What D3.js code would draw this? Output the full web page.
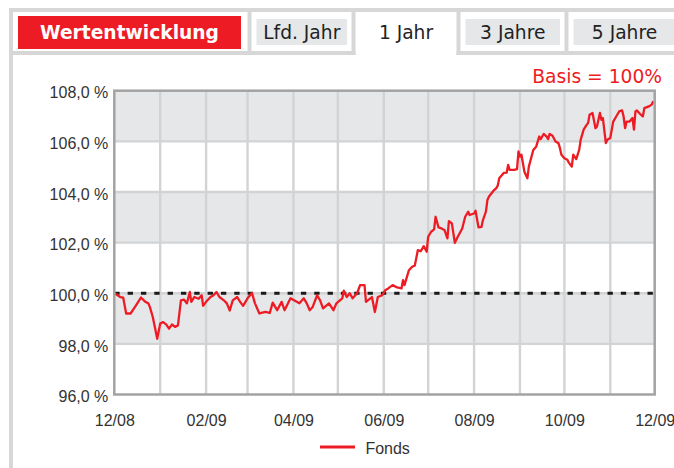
<!DOCTYPE html>
<html><head><meta charset="utf-8">
<script src="https://cdn.jsdelivr.net/npm/d3@7"></script>
<style>html,body{margin:0;padding:0;background:#fff}svg{display:block}</style>
</head><body>
<svg id="c" width="674" height="468"></svg>
<script>
// ---- data ----
const tabLabels = ["Wertentwicklung", "Lfd. Jahr", "1 Jahr", "3 Jahre", "5 Jahre"];
const activeTab = "1 Jahr";
const basisLabel = "Basis = 100%";
const seriesName = "Fonds";
const yTicks = [96, 98, 100, 102, 104, 106, 108];
const xTickLabels = ["12/08", "02/09", "04/09", "06/09", "08/09", "10/09", "12/09"];
const baseline = 100;
const dates = [
"2008-12-01","2008-12-02","2008-12-05","2008-12-07","2008-12-09","2008-12-12","2008-12-15","2008-12-19","2008-12-22","2008-12-24",
"2008-12-25","2008-12-27","2008-12-30","2009-01-01","2009-01-03","2009-01-05","2009-01-07","2009-01-09","2009-01-11","2009-01-13",
"2009-01-15","2009-01-17","2009-01-19","2009-01-21","2009-01-22","2009-01-24","2009-01-27","2009-01-29","2009-01-30","2009-02-01",
"2009-02-04","2009-02-06","2009-02-08","2009-02-10","2009-02-13","2009-02-15","2009-02-17","2009-02-19","2009-02-22","2009-02-24",
"2009-02-26","2009-03-01","2009-03-04","2009-03-06","2009-03-09","2009-03-13","2009-03-16","2009-03-18","2009-03-21","2009-03-24",
"2009-03-26","2009-03-30","2009-04-02","2009-04-05","2009-04-08","2009-04-10","2009-04-12","2009-04-14","2009-04-17","2009-04-19",
"2009-04-21","2009-04-25","2009-04-28","2009-04-30","2009-05-04","2009-05-05","2009-05-07","2009-05-09","2009-05-11","2009-05-14",
"2009-05-16","2009-05-19","2009-05-20","2009-05-24","2009-05-26","2009-05-28","2009-05-31","2009-06-02","2009-06-04","2009-06-07",
"2009-06-10","2009-06-13","2009-06-14","2009-06-15","2009-06-18","2009-06-20","2009-06-22","2009-06-24","2009-06-26","2009-06-28",
"2009-06-30","2009-07-01","2009-07-03","2009-07-05","2009-07-06","2009-07-08","2009-07-10","2009-07-12","2009-07-14","2009-07-15",
"2009-07-17","2009-07-19","2009-07-21","2009-07-24","2009-07-26","2009-07-28","2009-07-29","2009-08-01","2009-08-02","2009-08-04",
"2009-08-06","2009-08-07","2009-08-09","2009-08-10","2009-08-11","2009-08-14","2009-08-16","2009-08-17","2009-08-18","2009-08-21",
"2009-08-23","2009-08-24","2009-08-25","2009-08-28","2009-08-30","2009-08-31","2009-09-01","2009-09-02","2009-09-04","2009-09-06",
"2009-09-07","2009-09-10","2009-09-12","2009-09-14","2009-09-15","2009-09-17","2009-09-19","2009-09-20","2009-09-21","2009-09-23",
"2009-09-25","2009-09-27","2009-09-28","2009-09-29","2009-10-01","2009-10-03","2009-10-04","2009-10-06","2009-10-07","2009-10-09",
"2009-10-11","2009-10-12","2009-10-14","2009-10-16","2009-10-17","2009-10-18","2009-10-20","2009-10-22","2009-10-23","2009-10-25",
"2009-10-26","2009-10-27","2009-10-29","2009-10-30","2009-11-01","2009-11-03","2009-11-05","2009-11-07","2009-11-09","2009-11-10",
"2009-11-11","2009-11-12","2009-11-14","2009-11-16","2009-11-17","2009-11-18","2009-11-19","2009-11-21","2009-11-23","2009-11-24",
"2009-11-27","2009-11-29","2009-11-30"
];
const values = [
100.00,99.97,99.85,99.83,99.20,99.20,99.46,99.83,99.66,99.60,
99.46,99.06,98.20,98.80,98.86,98.77,98.60,98.77,98.67,98.73,
99.72,99.75,99.60,100.05,99.66,99.85,99.78,99.92,99.50,99.66,
99.85,99.92,100.05,99.85,99.72,99.60,99.32,99.72,99.85,99.66,
99.50,99.80,100.01,99.60,99.20,99.26,99.22,99.63,99.33,99.66,
99.33,99.80,99.70,99.60,99.80,99.60,99.33,99.46,99.92,99.72,
99.40,99.60,99.33,99.60,99.80,100.10,99.85,100.00,99.80,100.00,
100.32,100.32,99.66,99.85,99.26,99.85,99.92,100.12,100.19,100.32,
100.23,100.19,100.52,100.32,100.91,101.04,101.10,101.70,101.66,101.86,
101.64,102.23,102.43,102.52,103.02,102.60,102.56,102.50,102.17,102.85,
102.76,101.99,102.23,102.56,103.02,103.22,103.09,103.15,103.26,102.60,
102.62,102.89,103.22,103.68,103.81,104.04,104.15,104.25,104.54,104.75,
104.76,105.07,104.87,104.87,104.90,105.60,105.40,105.47,104.80,104.54,
105.00,105.66,105.80,106.19,106.09,106.29,106.19,106.09,106.29,106.22,
105.99,105.93,105.73,105.47,105.33,105.27,105.16,105.00,105.47,105.30,
105.66,106.06,106.46,106.65,106.72,107.05,107.12,106.52,106.59,107.12,
106.85,106.92,105.93,106.06,106.13,106.78,106.98,107.18,107.22,106.98,
106.52,106.78,106.78,106.92,106.46,107.18,107.22,107.09,106.98,107.31,
107.38,107.45,107.58
];

// ---- drawing ----
const RED = "#ed1c24", FRAME = "#d7d7d7", LABELBG = "#e6e7e8";
const TABFONT = "'DejaVu Sans', Verdana, sans-serif";
const AXFONT = "'Liberation Sans', Arial, sans-serif";
const svg = d3.select("#c");
svg.append("rect").attr("width", 674).attr("height", 468).attr("fill", "#fff");

// tab strip layout
const walls = [9, 247.5, 351.5, 456.5, 564.5, 680];
const wallW = 4, topY = 8, tabBottom = 55;
const fr = svg.append("g");
fr.append("rect").attr("x", walls[0]).attr("y", topY).attr("width", 674 - walls[0]).attr("height", wallW).attr("fill", FRAME);
walls.slice(0, 5).forEach(w => fr.append("rect").attr("x", w).attr("y", topY).attr("width", wallW).attr("height", tabBottom - topY).attr("fill", FRAME));
fr.append("rect").attr("x", walls[0]).attr("y", topY).attr("width", wallW).attr("height", 468 - topY).attr("fill", FRAME);
tabLabels.forEach((t, i) => {
  const x0 = walls[i] + wallW, x1 = walls[i + 1];
  const cx = (x0 + x1) / 2;
  if (t !== activeTab) {
    fr.append("rect").attr("x", walls[i]).attr("y", tabBottom - wallW).attr("width", x1 - walls[i] + wallW).attr("height", wallW).attr("fill", FRAME);
  }
  if (i === 0) {
    fr.append("rect").attr("x", x0 + 5).attr("y", 16).attr("width", x1 - x0 - 11.5).attr("height", 33).attr("fill", RED);
    fr.append("text").attr("x", x0 + 5 + (x1 - x0 - 11.5) / 2).attr("y", 39).attr("text-anchor", "middle")
      .attr("font-family", TABFONT).attr("font-weight", "bold").attr("font-size", 18.67).attr("fill", "#fff").text(t);
  } else {
    if (t !== activeTab) {
      fr.append("rect").attr("x", x0 + 5).attr("y", 19).attr("width", x1 - x0 - 9.5).attr("height", 26).attr("fill", LABELBG);
    }
    const bx = t !== activeTab ? x0 + 5 + (x1 - x0 - 9.5) / 2 : cx;
    fr.append("text").attr("x", bx).attr("y", 39).attr("text-anchor", "middle")
      .attr("font-family", TABFONT).attr("font-size", 18.67).attr("fill", "#222").text(t);
  }
});

svg.append("text").attr("x", 662).attr("y", 82.5).attr("text-anchor", "end")
  .attr("font-family", TABFONT).attr("font-size", 18.67).attr("fill", RED).text(basisLabel);

// plot
const parse = d3.timeParse("%Y-%m-%d");
const data = dates.map((d, i) => ({ date: parse(d), value: values[i] }));
const tickParse = d3.timeParse("%m/%y");
const xTickDates = xTickLabels.map(tickParse);
const L = 114.3, R = 654.7, T = 90.7, B = 394.5;
const x = d3.scaleTime().domain([xTickDates[0], xTickDates[xTickDates.length - 1]]).range([L, R]);
const y = d3.scaleLinear().domain([yTicks[0], yTicks[yTicks.length - 1]]).range([B, T]);

const g = svg.append("g");
// bands
d3.pairs(yTicks).forEach(([a, b], k) => {
  g.append("rect").attr("x", L).attr("y", y(b)).attr("width", R - L).attr("height", y(a) - y(b))
    .attr("fill", k % 2 === 1 ? LABELBG : "#fff");
});
// grid
g.selectAll(".hg").data(yTicks.slice(1, -1)).join("line")
  .attr("x1", L).attr("x2", R).attr("y1", d => y(d)).attr("y2", d => y(d))
  .attr("stroke", "#d2d3d5").attr("stroke-width", 2.4);
g.selectAll(".vg").data(x.ticks(d3.timeMonth.every(1)).slice(1, -1)).join("line")
  .attr("x1", d => x(d)).attr("x2", d => x(d)).attr("y1", T).attr("y2", B)
  .attr("stroke", "#d2d3d5").attr("stroke-width", 2.4);
// baseline 100
g.append("line").attr("x1", L).attr("x2", R).attr("y1", y(baseline)).attr("y2", y(baseline))
  .attr("stroke", "#1a1a1a").attr("stroke-width", 3).attr("stroke-dasharray", "5.33,8");
// series
g.append("path").datum(data)
  .attr("d", d3.line().x(d => x(d.date)).y(d => y(d.value)))
  .attr("fill", "none").attr("stroke", RED).attr("stroke-width", 2.3).attr("stroke-linejoin", "round");
// border
g.append("rect").attr("x", L).attr("y", T).attr("width", R - L).attr("height", B - T)
  .attr("fill", "none").attr("stroke", "#a3a3a3").attr("stroke-width", 2.5);

// axes
const fmtY = d => d.toFixed(1).replace(".", ",") + " %";
const ya = svg.append("g").attr("transform", `translate(${L},0)`)
  .call(d3.axisLeft(y).tickValues(yTicks).tickFormat(fmtY).tickSize(0).tickPadding(6));
ya.select(".domain").remove();
ya.selectAll("text").attr("dy", 7.2).attr("font-family", AXFONT).attr("font-size", 16).attr("fill", "#333");

const xa = svg.append("g").attr("transform", `translate(0,${B})`)
  .call(d3.axisBottom(x).tickValues(xTickDates).tickFormat((d, i) => xTickLabels[i]).tickSize(0));
xa.select(".domain").remove();
xa.selectAll("text").attr("y", 31.5).attr("dy", 0).attr("font-family", AXFONT).attr("font-size", 16).attr("fill", "#333");

// legend
const lg = svg.append("g");
lg.append("line").attr("x1", 320).attr("x2", 355).attr("y1", 447).attr("y2", 447).attr("stroke", RED).attr("stroke-width", 3);
lg.append("text").attr("x", 365.4).attr("y", 453.5).attr("font-family", AXFONT).attr("font-size", 16).attr("fill", "#333").text(seriesName);
</script>
</body></html>
